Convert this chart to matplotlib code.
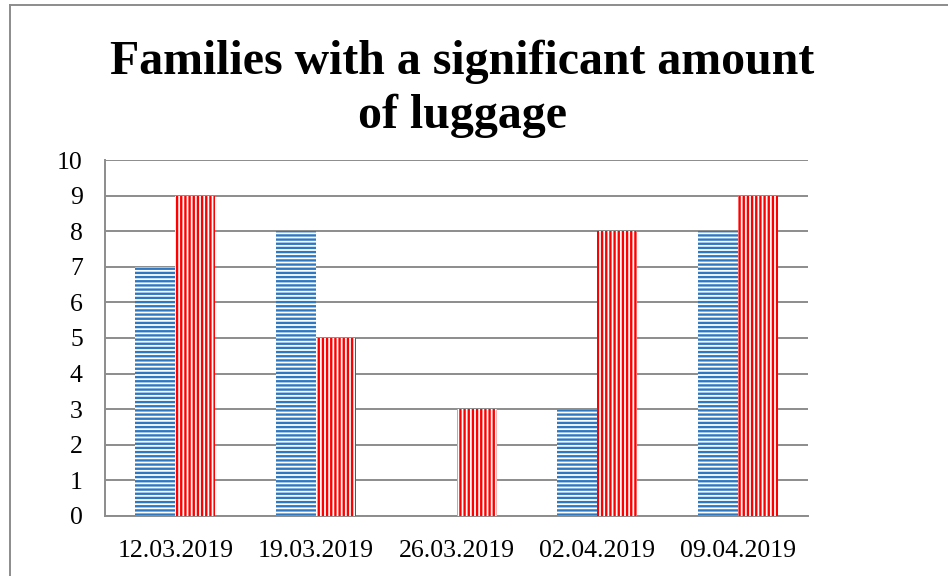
import matplotlib
matplotlib.use("Agg")
import matplotlib.pyplot as plt
import numpy as np
from matplotlib.lines import Line2D

dates = ["12.03.2019", "19.03.2019", "26.03.2019", "02.04.2019", "09.04.2019"]
series_blue = [7, 8, 0, 3, 8]
series_red = [9, 5, 3, 8, 9]

plt.rcParams['font.family'] = ['Liberation Serif', 'DejaVu Serif']
plt.rcParams['hatch.linewidth'] = 1.7

fig = plt.figure(figsize=(9.48, 5.76), dpi=100)
ax = fig.add_axes([0.1108, 0.1042, 0.7415, 0.618])

x = np.arange(len(dates))
w = 0.285
ax.bar(x - w / 2, series_blue, w, facecolor='white', edgecolor='#2E78C2',
       hatch='----', linewidth=0, zorder=3)
ax.bar(x + w / 2, series_red, w, facecolor='white', edgecolor='#FF0000',
       hatch='||||', linewidth=0, zorder=3)

ax.set_xlim(-0.5, len(dates) - 0.5)
ax.set_ylim(0, 10)
ax.set_yticks(range(0, 11))
ax.set_xticks(x)
ax.set_xticklabels(dates)
ax.tick_params(length=0, labelsize=18.5)
ax.tick_params(axis='x', pad=17)
ax.tick_params(axis='y', pad=16)
ax.grid(axis='y', color='#8C8C8C', linewidth=1.4, zorder=0)
for s in ['top', 'right']:
    ax.spines[s].set_visible(False)
for s in ['left', 'bottom']:
    ax.spines[s].set_color('#8C8C8C')
    ax.spines[s].set_linewidth(1.4)

fig.text(462 / 948, 1 - 40 / 576, "Families with a significant amount\nof luggage",
         ha='center', va='top', fontsize=34.5, fontweight='bold', linespacing=1.27)

# chart frame
fig.add_artist(Line2D([10 / 948, 10 / 948], [0, 1 - 5 / 576], color='#8C8C8C', lw=1.4))
fig.add_artist(Line2D([10 / 948, 1], [1 - 5 / 576, 1 - 5 / 576], color='#8C8C8C', lw=1.4))

fig.savefig("out.png", dpi=100)
